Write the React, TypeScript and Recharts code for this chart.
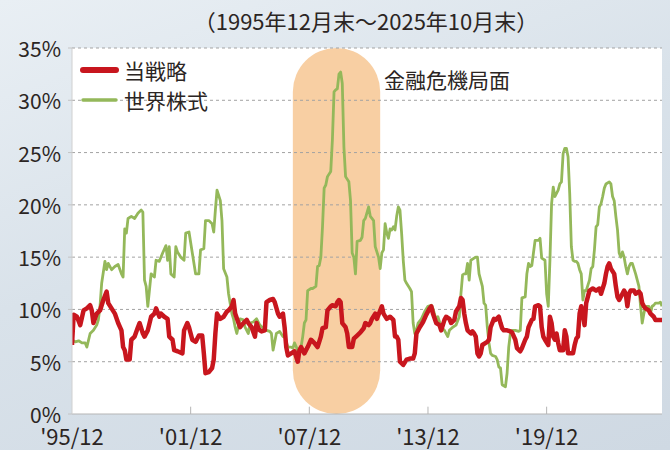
import React from "react";
import {
  LineChart,
  Line,
  XAxis,
  YAxis,
  ReferenceArea,
  ReferenceLine,
  Legend,
} from "recharts";

// month index 0 = 1995/12, value = volatility (%)
const strategy: [number, number][] = [
  [0, 6.6], [1, 9.5], [3, 9.3], [5, 8.5], [7, 9.9], [9, 10.1], [11, 10.4], [12, 9.9], [13, 8.7], [15, 9.6],
  [17, 9.9], [19, 10.9], [21, 11.7], [22, 10.6], [24, 10.1], [26, 9.6], [28, 8.7], [30, 8.0], [31, 6.4], [32, 6.1],
  [33, 5.2], [35, 5.2], [36, 7.1], [38, 7.4], [40, 8.3], [41, 8.7], [43, 7.7], [44, 7.4], [46, 8.0], [48, 9.3],
  [50, 9.6], [51, 10.1], [53, 9.3], [54, 9.6], [56, 9.3], [58, 9.1], [59, 7.4], [61, 7.1], [62, 6.1], [64, 6.0],
  [67, 5.8], [68, 8.0], [70, 8.7], [71, 8.3], [73, 7.1], [75, 6.9], [77, 7.5], [79, 7.5], [80, 5.8], [81, 3.9],
  [83, 4.0], [85, 4.4], [86, 5.2], [87, 7.7], [88, 9.6], [90, 9.1], [92, 9.3], [94, 9.8], [95, 9.9], [97, 10.3],
  [98, 10.9], [99, 9.6], [101, 8.7], [102, 8.3], [104, 8.7], [106, 9.0], [107, 8.7], [109, 8.3], [111, 7.4], [112, 8.7],
  [113, 8.2], [114, 8.0], [115, 7.9], [117, 8.0], [118, 10.7], [120, 10.9], [122, 11.0], [123, 10.7], [125, 9.6], [126, 9.3],
  [128, 9.6], [129, 8.3], [130, 6.4], [131, 5.6], [133, 5.8], [135, 6.0], [137, 5.0], [138, 6.1], [139, 6.4], [141, 5.8],
  [142, 6.1], [143, 6.4], [145, 7.1], [147, 6.8], [149, 6.4], [151, 7.4], [152, 8.2], [154, 8.3], [155, 9.9], [157, 10.3],
  [158, 10.4], [160, 10.3], [161, 10.7], [162, 10.9], [163, 10.7], [164, 8.7], [166, 8.3], [167, 7.7], [168, 6.4], [170, 6.4],
  [171, 7.2], [173, 7.5], [175, 7.8], [177, 8.2], [178, 8.7], [180, 8.5], [181, 8.7], [182, 9.1], [184, 9.6], [185, 9.1],
  [187, 9.9], [188, 10.3], [189, 9.6], [191, 9.1], [193, 9.3], [195, 9.0], [196, 7.4], [197, 7.4], [198, 7.1], [199, 5.0],
  [201, 4.7], [203, 5.2], [205, 5.3], [207, 5.3], [208, 5.8], [209, 7.7], [211, 8.3], [213, 8.8], [215, 9.5], [217, 10.1],
  [218, 10.3], [219, 9.6], [221, 8.7], [223, 8.5], [224, 8.0], [226, 9.0], [227, 9.3], [229, 9.1], [230, 8.7], [232, 9.0],
  [233, 9.8], [235, 10.3], [236, 11.1], [237, 10.9], [238, 9.6], [239, 8.7], [240, 8.0], [242, 7.7], [243, 7.9], [244, 7.7],
  [245, 7.4], [246, 5.8], [247, 5.5], [248, 5.8], [249, 6.6], [251, 6.8], [252, 6.9], [253, 7.1], [254, 8.3], [256, 9.1],
  [257, 9.0], [259, 9.3], [260, 8.7], [261, 8.2], [262, 8.0], [264, 8.0], [266, 7.9], [267, 7.8], [269, 7.1], [270, 6.3],
  [272, 6.0], [273, 6.3], [275, 7.1], [276, 7.4], [277, 8.3], [279, 9.0], [280, 9.1], [281, 10.3], [283, 10.4], [284, 10.3],
  [285, 8.3], [286, 7.4], [287, 7.1], [289, 6.6], [290, 9.3], [291, 8.7], [292, 7.4], [293, 7.1], [294, 7.7], [295, 6.8],
  [296, 6.1], [298, 6.1], [299, 8.0], [300, 7.4], [301, 5.8], [304, 5.8], [305, 6.6], [306, 7.2], [307, 7.4], [308, 9.6],
  [309, 10.3], [310, 9.6], [311, 8.5], [312, 10.6], [313, 11.2], [314, 11.8], [316, 12.0], [318, 11.8], [320, 12.0], [321, 11.5],
  [323, 12.5], [324, 13.4], [325, 14.1], [326, 14.4], [327, 13.9], [329, 13.4], [330, 12.2], [331, 11.2], [332, 10.9], [334, 11.5],
  [335, 11.8], [336, 11.5], [337, 10.3], [338, 11.5], [339, 11.8], [341, 11.8], [342, 11.5], [344, 11.7], [345, 11.5], [346, 10.6],
  [347, 10.3], [348, 10.1], [350, 9.9], [351, 9.6], [353, 9.3], [354, 9.0], [356, 9.0], [358, 9.0],
];

const worldEquity: [number, number][] = [
  [0, 7.1], [2, 6.9], [4, 7.0], [6, 6.8], [8, 6.8], [9, 6.4], [11, 7.7], [13, 8.0], [15, 8.5], [16, 9.0],
  [17, 10.3], [18, 12.5], [20, 14.6], [21, 13.8], [22, 14.4], [24, 13.8], [26, 14.1], [28, 14.3], [30, 13.4], [31, 13.1],
  [32, 17.7], [33, 17.3], [34, 18.7], [36, 18.9], [38, 18.7], [40, 19.2], [42, 19.5], [43, 19.3], [44, 12.8], [45, 12.2],
  [46, 10.3], [48, 13.4], [50, 13.1], [51, 14.7], [53, 14.6], [55, 15.4], [57, 16.1], [58, 14.7], [59, 16.0], [60, 13.4],
  [62, 13.1], [63, 16.0], [64, 15.5], [66, 15.0], [68, 14.7], [69, 17.3], [71, 17.4], [73, 15.4], [75, 13.4], [77, 13.4],
  [78, 15.7], [80, 15.8], [81, 18.5], [83, 18.5], [85, 18.2], [86, 17.4], [87, 19.5], [88, 21.4], [90, 20.4], [91, 18.5],
  [92, 13.9], [94, 13.1], [95, 11.5], [97, 9.6], [98, 9.1], [99, 8.3], [100, 7.7], [102, 9.1], [104, 9.0], [105, 8.3],
  [107, 7.7], [108, 8.7], [110, 8.8], [112, 9.1], [114, 8.5], [116, 8.2], [118, 8.0], [120, 7.9], [121, 7.7], [122, 6.1],
  [124, 7.7], [126, 7.9], [128, 7.4], [129, 7.4], [131, 6.4], [133, 6.4], [134, 6.3], [135, 6.8], [137, 6.1], [139, 6.4],
  [140, 7.4], [141, 8.7], [142, 9.0], [143, 11.8], [145, 12.0], [146, 12.0], [148, 12.2], [149, 14.1], [150, 14.2], [151, 15.0],
  [152, 17.9], [153, 21.6], [154, 21.9], [155, 22.7], [157, 23.2], [158, 26.2], [159, 30.8], [160, 31.0], [161, 31.1], [162, 32.5],
  [163, 32.7], [164, 31.6], [165, 25.5], [166, 22.7], [168, 22.2], [169, 20.4], [170, 15.4], [171, 15.0], [172, 13.4], [173, 16.5],
  [175, 16.6], [176, 16.9], [177, 18.5], [178, 18.7], [180, 19.8], [181, 18.9], [182, 18.7], [183, 18.5], [184, 16.0], [186, 15.0],
  [187, 13.9], [188, 15.4], [189, 15.7], [190, 18.2], [191, 17.3], [192, 16.8], [193, 17.7], [194, 17.6], [195, 17.9], [196, 17.6],
  [197, 18.9], [198, 19.8], [199, 19.5], [200, 17.3], [201, 14.7], [202, 12.8], [203, 12.5], [205, 12.0], [206, 11.7], [207, 8.7],
  [208, 7.7], [209, 8.0], [210, 8.7], [212, 9.1], [214, 9.8], [216, 10.3], [218, 10.4], [219, 10.1], [221, 9.0], [222, 9.3],
  [224, 8.3], [226, 8.0], [228, 7.4], [229, 8.0], [231, 8.3], [233, 8.5], [235, 9.3], [236, 11.5], [237, 13.3], [238, 13.4],
  [239, 13.4], [240, 14.4], [241, 12.8], [242, 14.7], [244, 14.9], [245, 15.0], [246, 15.0], [247, 13.4], [248, 12.8], [249, 12.2],
  [250, 10.6], [251, 10.4], [252, 8.3], [253, 6.8], [254, 5.8], [255, 5.6], [257, 5.5], [258, 5.2], [259, 4.5], [260, 4.4],
  [261, 2.8], [262, 2.7], [263, 2.6], [264, 3.9], [265, 6.4], [266, 7.7], [267, 8.0], [269, 8.0], [271, 7.9], [272, 8.0],
  [273, 11.1], [275, 11.2], [276, 13.4], [277, 14.4], [278, 14.1], [279, 14.2], [280, 15.4], [281, 16.6], [283, 16.6], [284, 16.8],
  [285, 14.9], [287, 14.7], [288, 11.5], [289, 10.3], [290, 14.7], [291, 20.1], [292, 21.7], [293, 20.8], [294, 21.1], [295, 21.4],
  [296, 22.0], [297, 22.2], [298, 24.9], [299, 25.4], [300, 25.4], [301, 24.6], [302, 21.1], [303, 16.0], [304, 14.7], [305, 14.6],
  [306, 14.6], [307, 14.4], [308, 13.8], [309, 13.4], [310, 10.9], [311, 11.8], [312, 11.8], [313, 12.3], [314, 12.8], [315, 13.9],
  [316, 14.1], [317, 15.7], [318, 17.9], [319, 18.1], [320, 19.8], [321, 20.1], [322, 20.8], [323, 21.6], [324, 22.0], [326, 22.2],
  [327, 22.0], [328, 20.8], [329, 20.4], [330, 18.9], [331, 17.6], [332, 15.4], [333, 15.0], [334, 15.5], [335, 15.0], [336, 14.1],
  [337, 13.4], [338, 14.1], [339, 14.4], [340, 14.4], [341, 13.9], [342, 13.4], [343, 12.8], [344, 12.2], [345, 10.3], [346, 8.7],
  [347, 9.6], [348, 10.3], [350, 10.3], [351, 9.6], [352, 10.3], [353, 10.4], [354, 10.6], [356, 10.6], [357, 10.7], [358, 10.3],
];

const seriesNames = ["当戦略", "世界株式"];
const xTickMonths = [0, 72, 144, 216, 288];
const xTickLabels = ["'95/12", "'01/12", "'07/12", "'13/12", "'19/12"];
const yTicks = [0, 5, 10, 15, 20, 25, 30, 35];
const gridLevels = [5, 10, 15, 20, 25, 30, 35];
const lastMonth = 358;
const crisisStart = 134;
const crisisEnd = 187;
const periodText = "（1995年12月末～2025年10月末）";
const crisisText = "金融危機局面";

const RED = "#c8161e";
const GREEN = "#94b85a";
const INK = "#2b2523";
const FONT = "'Noto Sans CJK JP', 'Noto Sans', sans-serif";

const toRows = (pts: [number, number][]) => pts.map(([m, v]) => ({ m, v }));

const YTick = (props: any) => {
  const { y, payload } = props;
  return (
    <text x={61} y={y} textAnchor="end" dominantBaseline="central" fontSize={21} fill={INK} fontFamily={FONT}>
      {payload.value}%
    </text>
  );
};

const XTick = (props: any) => {
  const { x, y, payload } = props;
  const i = xTickMonths.indexOf(payload.value);
  return (
    <text x={x} y={y + 31} textAnchor="middle" fontSize={22} fill={INK} fontFamily={FONT}>
      {xTickLabels[i]}
    </text>
  );
};

const CrisisShape = (props: any) => {
  const { x, y, width, height } = props;
  return <rect x={x} y={y} width={width} height={height} rx={width / 2} ry={width / 2} fill="#f8cfa3" />;
};

const LegendBox = () => (
  <div style={{ fontFamily: FONT, fontSize: 21, color: INK, lineHeight: "30px" }}>
    {seriesNames.map((name, i) => (
      <div key={name} style={{ display: "flex", alignItems: "center" }}>
        <svg width={46} height={30}>
          <line x1={5} x2={38} y1={15} y2={15} stroke={i === 0 ? RED : GREEN} strokeWidth={i === 0 ? 6 : 3.5} strokeLinecap="round" />
        </svg>
        <span>{name}</span>
      </div>
    ))}
  </div>
);

export default function App() {
  return (
    <div
      style={{
        position: "relative",
        width: 670,
        height: 450,
        background: "linear-gradient(160deg, #e9eff4 0%, #d9e2ea 45%, #cfd9e3 100%)",
        overflow: "hidden",
      }}
    >
      <style>{"body{margin:0}"}</style>
      <div
        style={{
          position: "absolute",
          left: 166,
          width: 400,
          top: 4,
          textAlign: "center",
          fontFamily: FONT,
          fontSize: 22,
          color: INK,
          whiteSpace: "nowrap",
        }}
      >
        {periodText}
      </div>
      <LineChart width={670} height={450} margin={{ top: 48, right: 8, bottom: 0, left: 0 }}>
        <XAxis
          type="number"
          dataKey="m"
          domain={[0, lastMonth]}
          ticks={xTickMonths}
          tick={<XTick />}
          tickLine={false}
          tickSize={0}
          tickMargin={0}
          height={36}
          axisLine={{ stroke: "#b5b5b5" }}
          allowDataOverflow
        />
        <YAxis
          type="number"
          domain={[0, 35]}
          ticks={yTicks}
          tick={<YTick />}
          width={72}
          tickSize={4}
          tickLine={{ stroke: "#c4c4c4" }}
          axisLine={{ stroke: "#d0d0d0" }}
          allowDataOverflow
        />
        <ReferenceArea x1={0} x2={lastMonth} y1={0} y2={35} fill="#ffffff" fillOpacity={1} stroke="none" />
        <ReferenceArea x1={crisisStart} x2={crisisEnd} y1={0} y2={35} shape={<CrisisShape />} />
        {gridLevels.map((g) => (
          <ReferenceLine key={g} y={g} stroke="#a3a3a3" strokeDasharray="3 3" strokeWidth={1} />
        ))}
        {xTickMonths.slice(1).map((m) => (
          <ReferenceLine
            key={m}
            segment={[{ x: m, y: 0 }, { x: m, y: 0.7 }]}
            stroke="#b5b5b5"
            strokeWidth={1}
          />
        ))}
        <Legend
          layout="horizontal"
          verticalAlign="middle"
          align="center"
          content={<LegendBox />}
          wrapperStyle={{ position: "absolute", left: 78, top: 55, width: 150 }}
        />
        <Line
          data={toRows(worldEquity)}
          dataKey="v"
          name={seriesNames[1]}
          type="linear"
          stroke={GREEN}
          strokeWidth={2.8}
          dot={false}
          strokeLinejoin="round"
          isAnimationActive={false}
        />
        <Line
          data={toRows(strategy)}
          dataKey="v"
          name={seriesNames[0]}
          type="linear"
          stroke={RED}
          strokeWidth={4.5}
          dot={false}
          strokeLinejoin="round"
          isAnimationActive={false}
        />
      </LineChart>
      <div
        style={{
          position: "absolute",
          left: 384,
          top: 64,
          fontFamily: FONT,
          fontSize: 21,
          color: INK,
          whiteSpace: "nowrap",
        }}
      >
        {crisisText}
      </div>
    </div>
  );
}
